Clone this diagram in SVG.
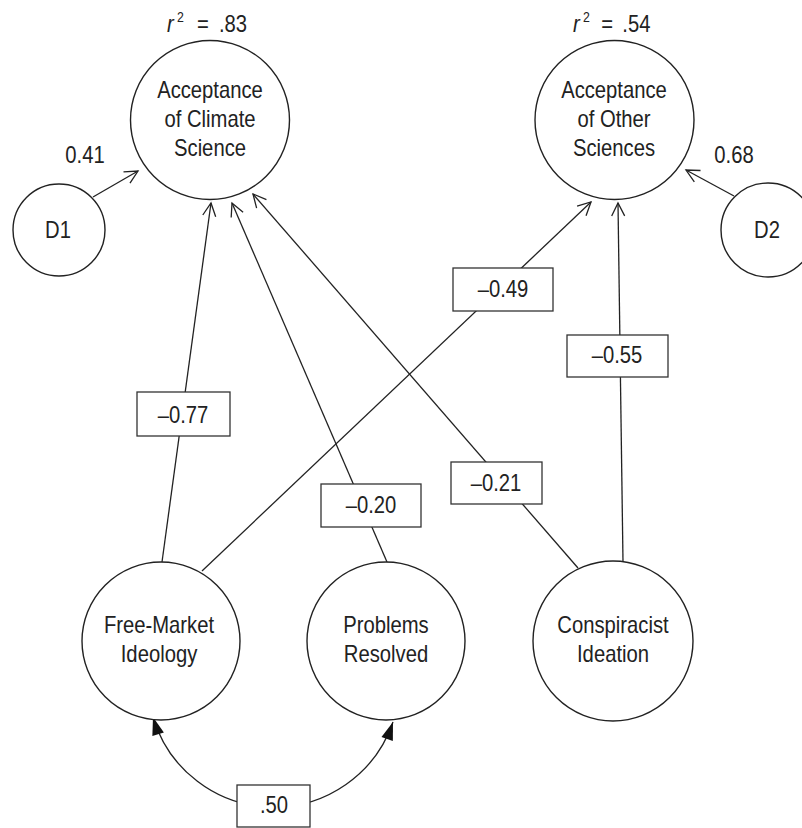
<svg xmlns="http://www.w3.org/2000/svg" width="802" height="828" viewBox="0 0 802 828">
<defs>
<style>
text{font-family:"Liberation Sans",Arial,sans-serif;font-size:23px;fill:#222;text-anchor:middle}
.node{fill:#fff;stroke:#222;stroke-width:1.4}
.edge{fill:none;stroke:#222;stroke-width:1.3}
.lbl{fill:#fff;stroke:#333;stroke-width:1.3}
.r2{text-anchor:start}
</style>
<marker id="open" viewBox="0 0 14 14" refX="13" refY="7" markerWidth="14" markerHeight="14" markerUnits="userSpaceOnUse" orient="auto" overflow="visible">
<path d="M0,0.5 L13,7 L0,13.5" fill="none" stroke="#222" stroke-width="1.3"/>
</marker>
<marker id="solid" viewBox="0 0 18 12" refX="18" refY="6" markerWidth="18" markerHeight="12" markerUnits="userSpaceOnUse" orient="auto-start-reverse" overflow="visible">
<path d="M0,0 L18,6 L0,12 Z" fill="#111"/>
</marker>
</defs>
<rect width="802" height="828" fill="#fff"/>

<g id="connectors">
<line class="edge" x1="93" y1="197" x2="138" y2="171" marker-end="url(#open)"/>
<line class="edge" x1="734" y1="196" x2="686" y2="170" marker-end="url(#open)"/>
<line class="edge" x1="162" y1="562" x2="211" y2="203" marker-end="url(#open)"/>
<line class="edge" x1="387" y1="562" x2="232" y2="203" marker-end="url(#open)"/>
<line class="edge" x1="578" y1="568" x2="253" y2="194" marker-end="url(#open)"/>
<line class="edge" x1="202" y1="571" x2="591" y2="202" marker-end="url(#open)"/>
<line class="edge" x1="623" y1="562" x2="618" y2="203" marker-end="url(#open)"/>
<path class="edge" d="M153,717 A126,126 0 0 0 393,722" marker-start="url(#solid)" marker-end="url(#solid)"/>
</g>

<g id="labels">
<g id="lbl-077"><rect class="lbl" x="137" y="392" width="93" height="44"/><text transform="translate(183,423) scale(0.88,1)">–0.77</text></g>
<g id="lbl-020"><rect class="lbl" x="321" y="484" width="100" height="43"/><text transform="translate(371,513) scale(0.88,1)">–0.20</text></g>
<g id="lbl-021"><rect class="lbl" x="451" y="462" width="91" height="42"/><text transform="translate(496,491) scale(0.88,1)">–0.21</text></g>
<g id="lbl-049"><rect class="lbl" x="453" y="268" width="100" height="43"/><text transform="translate(503,297) scale(0.88,1)">–0.49</text></g>
<g id="lbl-055"><rect class="lbl" x="567" y="335" width="101" height="42"/><text transform="translate(617,363) scale(0.88,1)">–0.55</text></g>
<g id="lbl-050"><rect class="lbl" x="237" y="785" width="73" height="42"/><text transform="translate(274,813) scale(0.88,1)">.50</text></g>
<text transform="translate(85,163) scale(0.88,1)">0.41</text>
<text transform="translate(734,163) scale(0.88,1)">0.68</text>
</g>

<g id="climate">
<circle class="node" cx="210" cy="120" r="79.5"/>
<text transform="translate(210,98) scale(0.88,1)">Acceptance</text>
<text transform="translate(210,127) scale(0.88,1)">of Climate</text>
<text transform="translate(210,156) scale(0.88,1)">Science</text>
<text class="r2" transform="translate(167,32) scale(0.88,1)"><tspan x="0" y="0" font-style="italic">r</tspan><tspan x="11.4" y="-10" font-size="14">2</tspan><tspan x="34" y="0">=</tspan><tspan x="59" y="0">.83</tspan></text>
</g>

<g id="other">
<circle class="node" cx="614.5" cy="120" r="79.5"/>
<text transform="translate(614,98) scale(0.88,1)">Acceptance</text>
<text transform="translate(614,127) scale(0.88,1)">of Other</text>
<text transform="translate(614,156) scale(0.88,1)">Sciences</text>
<text class="r2" transform="translate(573,32) scale(0.88,1)"><tspan x="0" y="0" font-style="italic">r</tspan><tspan x="11.4" y="-10" font-size="14">2</tspan><tspan x="32" y="0">=</tspan><tspan x="56" y="0">.54</tspan></text>
</g>

<g id="d1">
<circle class="node" cx="59" cy="230" r="46"/>
<text transform="translate(58,238) scale(0.88,1)">D1</text>
</g>

<g id="d2">
<circle class="node" cx="768" cy="230" r="47"/>
<text transform="translate(767,238) scale(0.88,1)">D2</text>
</g>

<g id="freemarket">
<circle class="node" cx="161" cy="641" r="79"/>
<text transform="translate(159,633) scale(0.88,1)">Free-Market</text>
<text transform="translate(159,662) scale(0.88,1)">Ideology</text>
</g>

<g id="problems">
<circle class="node" cx="386" cy="641" r="79"/>
<text transform="translate(386,633) scale(0.88,1)">Problems</text>
<text transform="translate(386,662) scale(0.88,1)">Resolved</text>
</g>

<g id="conspiracist">
<circle class="node" cx="613" cy="641" r="80"/>
<text transform="translate(613,633) scale(0.88,1)">Conspiracist</text>
<text transform="translate(613,662) scale(0.88,1)">Ideation</text>
</g>
</svg>
